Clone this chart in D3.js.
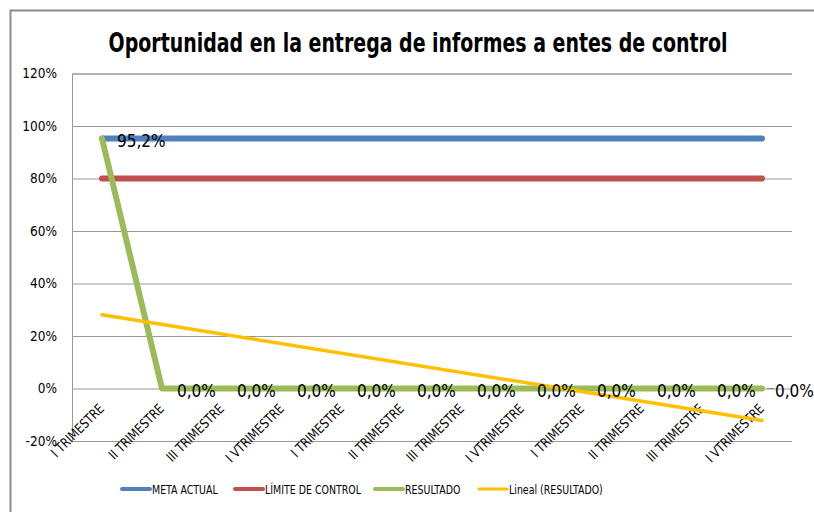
<title>Oportunidad en la entrega de informes</title>
<script src="https://d3js.org/d3.v7.min.js"></script>
<style>
  body { margin: 0; background: #fff; }
  text { font-family: "Liberation Sans Narrow", "DejaVu Sans Condensed", "Liberation Sans", sans-serif; fill: #000; }
</style>
<body>
<div id="chart"></div>
<script>
// data
var categories = ["I TRIMESTRE", "II TRIMESTRE", "III TRIMESTRE", "I VTRIMESTRE",
                  "I TRIMESTRE", "II TRIMESTRE", "III TRIMESTRE", "I VTRIMESTRE",
                  "I TRIMESTRE", "II TRIMESTRE", "III TRIMESTRE", "I VTRIMESTRE"];
var metaActual = [0.952, 0.952, 0.952, 0.952, 0.952, 0.952, 0.952, 0.952, 0.952, 0.952, 0.952, 0.952];
var limiteControl = [0.80, 0.80, 0.80, 0.80, 0.80, 0.80, 0.80, 0.80, 0.80, 0.80, 0.80, 0.80];
var resultado = [0.952, 0, 0, 0, 0, 0, 0, 0, 0, 0, 0, 0];
var yTicks = [-0.2, 0, 0.2, 0.4, 0.6, 0.8, 1.0, 1.2];
var seriesNames = ["META ACTUAL", "LÍMITE DE CONTROL", "RESULTADO", "Lineal (RESULTADO)"];
var seriesColors = ["#4f81bd", "#c0504d", "#9bbb59", "#ffc000"];

var W = 814, H = 512;
var plot = {left: 72, right: 792, top: 73.5, bottom: 441};

var svg = d3.select("#chart").append("svg")
    .attr("width", W).attr("height", H);

// chart border
svg.append("path")
    .attr("d", "M10.5," + H + "V10.5H" + W)
    .attr("fill", "none").attr("stroke", "#8c8c8c").attr("stroke-width", 2);

var x = d3.scaleBand().domain(d3.range(categories.length)).range([plot.left, plot.right]);
var cx = function(i) { return x(i) + x.bandwidth() / 2; };
var y = d3.scaleLinear().domain([-0.2, 1.2]).range([plot.bottom, plot.top]);

// gridlines + y axis
var yAxis = svg.append("g")
    .attr("transform", "translate(" + plot.left + ",0)")
    .call(d3.axisLeft(y).tickValues(yTicks).tickSize(-(plot.right - plot.left)).tickPadding(15)
        .tickFormat(function(d) { return Math.round(d * 100) + "%"; }));
yAxis.select(".domain").attr("stroke", "#999");
yAxis.selectAll(".tick line").attr("stroke", "#999");
yAxis.selectAll(".tick text").style("font-size", "13.5px").attr("fill", "#222");

// x labels (rotated, slightly condensed like Calibri)
svg.append("g").selectAll("text")
    .data(categories)
    .join("text")
    .attr("transform", function(d, i) { return "translate(" + (cx(i) + 3) + "," + (y(0) + 21) + ") rotate(-45) scale(0.9,1)"; })
    .attr("text-anchor", "end")
    .style("font-size", "13.5px")
    .attr("fill", "#222")
    .text(function(d) { return d; });

var line = d3.line().x(function(d, i) { return cx(i); }).y(function(d) { return y(d); });

function drawSeries(values, color, width) {
    svg.append("path")
        .datum(values)
        .attr("d", line)
        .attr("fill", "none")
        .attr("stroke", color)
        .attr("stroke-width", width)
        .attr("stroke-linecap", "round")
        .attr("stroke-linejoin", "round");
}

drawSeries(metaActual, seriesColors[0], 6);
drawSeries(limiteControl, seriesColors[1], 6);
drawSeries(resultado, seriesColors[2], 6);

// linear trendline of RESULTADO
var xs = d3.range(1, resultado.length + 1);
var mx = d3.mean(xs), my = d3.mean(resultado);
var slope = d3.sum(xs, function(v, i) { return (v - mx) * (resultado[i] - my); }) /
            d3.sum(xs, function(v) { return (v - mx) * (v - mx); });
var trend = xs.map(function(v) { return my + slope * (v - mx); });
svg.append("path")
    .datum([trend[0], trend[trend.length - 1]])
    .attr("d", d3.line().x(function(d, i) { return i === 0 ? cx(0) : cx(categories.length - 1); }).y(function(d) { return y(d); }))
    .attr("fill", "none")
    .attr("stroke", seriesColors[3])
    .attr("stroke-width", 3.5)
    .attr("stroke-linecap", "round");

// data labels
var last = resultado.length - 1;
svg.append("line")
    .attr("x1", cx(last) + 5).attr("x2", cx(last) + 12)
    .attr("y1", y(resultado[last])).attr("y2", y(resultado[last]))
    .attr("stroke", "#888").attr("stroke-width", 1);
svg.append("g").selectAll("text")
    .data(resultado)
    .join("text")
    .attr("x", function(d, i) { return cx(i) + (i === last ? 13 : 15); })
    .attr("y", function(d) { return y(d) + 8; })
    .style("font-size", "17px")
    .attr("fill", "#222")
    .text(function(d) { return d3.format(".1f")(d * 100).replace(".", ",") + "%"; });

// title, squeezed horizontally to the reference width
var title = svg.append("text")
    .attr("text-anchor", "middle")
    .style("font-size", "26px").style("font-weight", "bold")
    .text("Oportunidad en la entrega de informes a entes de control");
var tw = title.node().getComputedTextLength();
title.attr("transform", "translate(418,52) scale(" + Math.min(1, 619 / tw) + ",1)");

// legend
var legendX = [120, 233, 373, 477];
var legend = svg.append("g").selectAll("g")
    .data(seriesNames)
    .join("g")
    .attr("transform", function(d, i) { return "translate(" + legendX[i] + ",489)"; });
legend.append("line")
    .attr("x1", 2).attr("x2", 30)
    .attr("stroke", function(d, i) { return seriesColors[i]; })
    .attr("stroke-width", function(d, i) { return i === 3 ? 3 : 4; })
    .attr("stroke-linecap", "round");
legend.append("text")
    .attr("transform", "translate(32,4.5) scale(0.84,1)")
    .style("font-size", "12.5px")
    .attr("fill", "#222")
    .text(function(d) { return d; });
</script>
</body>
